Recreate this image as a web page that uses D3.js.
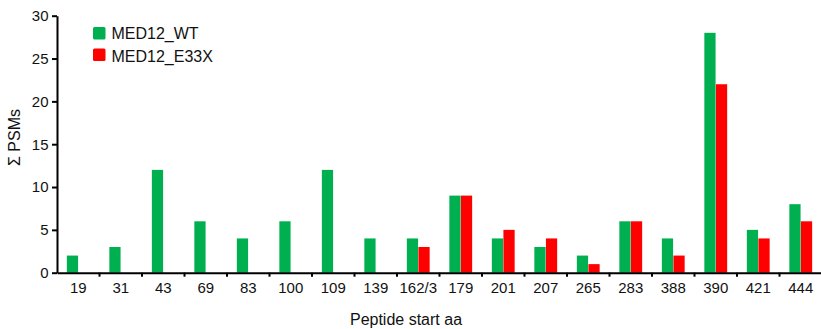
<!DOCTYPE html>
<html><head><meta charset="utf-8">
<script src="https://cdn.jsdelivr.net/npm/d3@7"></script>
<style>body{margin:0;background:#fff}svg{display:block;font-family:"Liberation Sans",Arial,sans-serif}</style>
</head><body><svg id="c" width="821" height="329"></svg>
<script>
const categories = ["19","31","43","69","83","100","109","139","162/3","179","201","207","265","283","388","390","421","444"];
const wtValues   = [2,3,12,6,4,6,12,4,4,9,4,3,2,6,4,28,5,8];
const e33xValues = [0,0,0,0,0,0,0,0,3,9,5,4,1,6,2,22,4,6];
const seriesNames = ["MED12_WT","MED12_E33X"];
const seriesColors = ["#00b050","#ff0000"];
const yTicks = [0,5,10,15,20,25,30];

const svg = d3.select("#c");
const mLeft = 57, mRight = 822, mTop = 15.7, mBottom = 272.7;
const x = d3.scaleBand().domain(categories).range([mLeft, mRight]).paddingInner(0).paddingOuter(0);
const x1 = d3.scaleBand().domain(seriesNames).range([9.5, x.bandwidth()-9.5]).padding(0.03);
const y = d3.scaleLinear().domain([0,30]).range([mBottom, mTop]);

const data = categories.map((c,i)=>({cat:c, vals:[wtValues[i], e33xValues[i]]}));
const g = svg.append("g");
data.forEach(d=>{
  seriesNames.forEach((s,j)=>{
    if (d.vals[j] > 0) {
      g.append("rect")
        .attr("x", x(d.cat)+x1(s))
        .attr("y", y(d.vals[j]))
        .attr("width", x1.bandwidth())
        .attr("height", y(0)-y(d.vals[j]))
        .attr("fill", seriesColors[j]);
    }
  });
});

// y axis
const yAxis = svg.append("g").attr("transform",`translate(${mLeft},0)`)
  .call(d3.axisLeft(y).tickValues(yTicks).tickSize(5).tickSizeOuter(0));
yAxis.select(".domain").attr("stroke","#000").attr("stroke-width",2);
yAxis.selectAll(".tick line").attr("stroke","#000").attr("stroke-width",2);
yAxis.selectAll(".tick text").attr("font-size","15px").attr("fill","#111").attr("x",-8.5)
  .style("font-family","'Liberation Sans',Arial,sans-serif");

// x axis
const xAxis = svg.append("g").attr("transform",`translate(0,${mBottom})`)
  .call(d3.axisBottom(x).tickSize(0));
xAxis.select(".domain").attr("stroke","#000").attr("stroke-width",2);
xAxis.selectAll(".tick text").attr("font-size","15px").attr("fill","#111")
  .attr("y",20).attr("dy",0)
  .style("font-family","'Liberation Sans',Arial,sans-serif");
// tick marks at band boundaries
xAxis.selectAll(".sep").data(categories.slice(1)).enter().append("line")
  .attr("x1",d=>x(d)).attr("x2",d=>x(d)).attr("y1",0).attr("y2",4)
  .attr("stroke","#000").attr("stroke-width",2);

// titles
svg.append("text").attr("x",406).attr("y",325).attr("text-anchor","middle")
  .attr("font-size","16px").attr("fill","#111").text("Peptide start aa");
svg.append("text").attr("transform","translate(19.5,137.5) rotate(-90)").attr("text-anchor","middle")
  .attr("font-size","16px").attr("fill","#111").text("Σ PSMs");

// legend
const leg = svg.append("g");
seriesNames.forEach((s,i)=>{
  leg.append("rect").attr("x",93).attr("y",27+i*21.5).attr("width",12.5).attr("height",12.5)
    .attr("rx",1.5).attr("fill",seriesColors[i]);
  leg.append("text").attr("x",111.5).attr("y",39+i*22.5).attr("font-size","16px").attr("fill","#111").text(s);
});
</script></body></html>
